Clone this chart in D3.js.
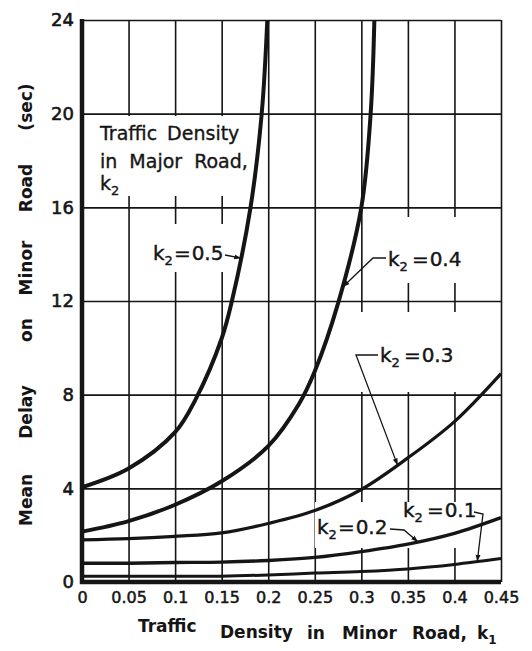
<!DOCTYPE html>
<html><head><meta charset="utf-8">
<script src="https://cdn.jsdelivr.net/npm/d3@7"></script>
<style>
html,body{margin:0;padding:0;background:#fff;}
svg{display:block;}
</style></head><body>
<svg id="chart" width="532" height="651"></svg>
<script>
// ---- data ----
const xTickValues = [0, 0.05, 0.1, 0.15, 0.2, 0.25, 0.3, 0.35, 0.4, 0.45];
const xTickLabels = ["0", "0.05", "0.1", "0.15", "0.2", "0.25", "0.3", "0.35", "0.4", "0.45"];
const yTickValues = [0, 4, 8, 12, 16, 20, 24];
const yTickLabels = ["0", "4", "8", "12", "16", "20", "24"];

const k1Common   = [0, 0.05, 0.1, 0.15, 0.2, 0.25, 0.3, 0.35, 0.4, 0.45];
const delayK2_01 = [0.25, 0.25, 0.25, 0.25, 0.3, 0.38, 0.45, 0.56, 0.75, 1.0];
const delayK2_02 = [0.8, 0.8, 0.83, 0.85, 0.92, 1.05, 1.3, 1.62, 2.08, 2.75];
const delayK2_03 = [1.8, 1.85, 1.95, 2.1, 2.5, 3.05, 3.95, 5.3, 6.85, 8.9];
const k1K2_04    = [0, 0.05, 0.1, 0.15, 0.2, 0.233, 0.25, 0.275, 0.3, 0.31, 0.314];
const delayK2_04 = [2.15, 2.6, 3.3, 4.3, 5.8, 7.6, 9.0, 11.9, 16, 20, 24];
const k1K2_05    = [0, 0.05, 0.1, 0.122, 0.15, 0.161, 0.181, 0.193, 0.199];
const delayK2_05 = [4.05, 4.85, 6.4, 7.8, 10.4, 12, 16, 20, 24];

const seriesNames = ["0.1", "0.2", "0.3", "0.4", "0.5"];
const yTitleWords = ["Mean", "Delay", "on", "Minor", "Road", "(sec)"];
const xTitleWords = ["Traffic", "Density", "in", "Minor", "Road,"];

// ---- layout ----
const svg = d3.select("#chart");
const pL = 82, pR = 501, pT = 20, pB = 582;
const x = d3.scaleLinear().domain([0, 0.45]).range([pL, pR]);
const y = d3.scaleLinear().domain([0, 24]).range([pB, pT]);
const ink = "#151515";

svg.append("rect").attr("width", 532).attr("height", 651).attr("fill", "#fff");

const defs = svg.append("defs");
defs.append("clipPath").attr("id", "plotclip").append("rect")
  .attr("x", pL - 3).attr("y", pT - 1).attr("width", pR - pL + 6).attr("height", pB - pT + 4);
defs.append("marker").attr("id", "arr").attr("viewBox", "0 0 10 10")
  .attr("refX", 10).attr("refY", 5).attr("markerWidth", 7).attr("markerHeight", 7)
  .attr("orient", "auto").attr("markerUnits", "userSpaceOnUse")
  .append("path").attr("d", "M0,1.5 L10,5 L0,8.5 Z").attr("fill", ink);

// ---- grid ----
const gx = svg.append("g").attr("transform", `translate(0,${pB})`)
  .call(d3.axisBottom(x).tickValues(xTickValues).tickSize(-(pB - pT)).tickFormat(""));
gx.select(".domain").remove();
gx.selectAll("line").attr("stroke", ink).attr("stroke-width", 1.6);
const gy = svg.append("g").attr("transform", `translate(${pL},0)`)
  .call(d3.axisLeft(y).tickValues(yTickValues).tickSize(-(pR - pL)).tickFormat(""));
gy.select(".domain").remove();
gy.selectAll("line").attr("stroke", ink).attr("stroke-width", 1.6);

// gaps in the grid around the hand lettering
const gaps = [[95, 116, 155, 80], [148, 224, 92, 48], [380, 217, 92, 66], [350, 312, 120, 80], [315, 502, 165, 46]];
svg.append("g").selectAll("rect").data(gaps).join("rect")
  .attr("x", d => d[0]).attr("y", d => d[1]).attr("width", d => d[2]).attr("height", d => d[3])
  .attr("fill", "#fff");

// ---- thick axes ----
svg.append("line").attr("x1", x(0)).attr("x2", x(0)).attr("y1", y(0) + 2).attr("y2", y(24) - 1)
  .attr("stroke", ink).attr("stroke-width", 4.5);
svg.append("line").attr("x1", x(0) - 2).attr("x2", x(0.45)).attr("y1", y(0)).attr("y2", y(0))
  .attr("stroke", ink).attr("stroke-width", 4.5);

// ---- tick labels ----
const tx = svg.append("g").attr("transform", `translate(0,${pB})`)
  .call(d3.axisBottom(x).tickValues(xTickValues).tickSize(0).tickPadding(10)
    .tickFormat((d, i) => xTickLabels[i]));
tx.select(".domain").remove();
tx.selectAll("text").attr("font-family", "DejaVu Sans").attr("font-size", 16)
  .attr("fill", ink).attr("stroke", ink).attr("stroke-width", 0.5);
const ty = svg.append("g").attr("transform", `translate(${pL},0)`)
  .call(d3.axisLeft(y).tickValues(yTickValues).tickSize(0).tickPadding(8)
    .tickFormat((d, i) => yTickLabels[i]));
ty.select(".domain").remove();
ty.selectAll("text").attr("font-family", "DejaVu Sans").attr("font-size", 18)
  .attr("fill", ink).attr("stroke", ink).attr("stroke-width", 0.6);

// ---- curves ----
const series = [
  { name: seriesNames[0], xs: k1Common, ys: delayK2_01, w: 3 },
  { name: seriesNames[1], xs: k1Common, ys: delayK2_02, w: 3.4 },
  { name: seriesNames[2], xs: k1Common, ys: delayK2_03, w: 3.2 },
  { name: seriesNames[3], xs: k1K2_04, ys: delayK2_04, w: 4 },
  { name: seriesNames[4], xs: k1K2_05, ys: delayK2_05, w: 4 }
];
const line = d3.line().x(d => x(d[0])).y(d => y(d[1])).curve(d3.curveCatmullRom.alpha(0.5));
const paths = {};
const cg = svg.append("g").attr("clip-path", "url(#plotclip)");
series.forEach(s => {
  const pts = s.xs.map((k, i) => [k, s.ys[i]]);
  paths[s.name] = cg.append("path").datum(pts).attr("d", line)
    .attr("fill", "none").attr("stroke", ink).attr("stroke-width", s.w)
    .attr("stroke-linejoin", "round").node();
});

function pointAtK(name, k) {
  const node = paths[name], px = x(k);
  let lo = 0, hi = node.getTotalLength();
  for (let i = 0; i < 40; i++) {
    const mid = (lo + hi) / 2;
    if (node.getPointAtLength(mid).x < px) lo = mid; else hi = mid;
  }
  const p = node.getPointAtLength((lo + hi) / 2);
  return [p.x, p.y];
}

// ---- annotations ----
const ag = svg.append("g").attr("font-family", "DejaVu Sans").attr("fill", ink);

function k2Label(xp, yp, val, gap) {
  const t = ag.append("text").attr("x", xp).attr("y", yp).attr("font-size", 20)
    .attr("stroke", ink).attr("stroke-width", 0.4);
  t.append("tspan").text("k");
  t.append("tspan").attr("font-size", 13).attr("dy", 5).text("2");
  t.append("tspan").attr("dy", -5).attr("dx", gap ? 4 : 1).text("=");
  t.append("tspan").attr("dx", 1).text(val);
}
function leader(pts, tip) {
  const d = "M" + pts.map(p => p.join(",")).join("L") + "L" + tip.join(",");
  ag.append("path").attr("d", d).attr("fill", "none").attr("stroke", ink)
    .attr("stroke-width", 1.3).attr("marker-end", "url(#arr)");
}

// legend block
const lg = ag.append("text").attr("font-size", 19).attr("stroke", ink).attr("stroke-width", 0.35);
lg.append("tspan").attr("x", 100).attr("y", 140).attr("word-spacing", 4).text("Traffic Density");
lg.append("tspan").attr("x", 100).attr("y", 168).attr("word-spacing", 6).text("in Major Road,");
const lk = ag.append("text").attr("x", 100).attr("y", 190).attr("font-size", 19)
  .attr("stroke", ink).attr("stroke-width", 0.35);
lk.append("tspan").text("k");
lk.append("tspan").attr("font-size", 13).attr("dy", 5).text("2");

k2Label(153, 260, "0.5", false);
leader([[225, 255]], pointAtK("0.5", 0.171));

k2Label(388, 266, "0.4", true);
leader([[386, 258], [373, 258]], pointAtK("0.4", 0.280));

k2Label(380, 362, "0.3", true);
leader([[378, 355], [356, 355]], pointAtK("0.3", 0.339));

k2Label(317, 534, "0.2", false);
leader([[390, 529], [404, 530]], pointAtK("0.2", 0.361));

k2Label(403, 517, "0.1", true);
leader([[474, 512], [483, 514]], pointAtK("0.1", 0.4245));

// ---- axis titles ----
const yCenters = [500, 412, 330, 268, 188, 107];
const yt = svg.append("g").attr("font-family", "DejaVu Sans").attr("font-weight", "bold")
  .attr("font-size", 17).attr("fill", ink);
yTitleWords.forEach((w, i) => {
  yt.append("text").attr("transform", `translate(32,${yCenters[i]}) rotate(-90)`)
    .attr("text-anchor", "middle").text(w);
});
const xStarts = [138, 220, 307, 342, 412];
const xBase = [632, 638, 639, 639, 639];
const xt = svg.append("g").attr("font-family", "DejaVu Sans").attr("font-weight", "bold")
  .attr("font-size", 17).attr("fill", ink);
xTitleWords.forEach((w, i) => {
  xt.append("text").attr("x", xStarts[i]).attr("y", xBase[i]).text(w);
});
const xk = xt.append("text").attr("x", 477).attr("y", 639);
xk.append("tspan").text("k");
xk.append("tspan").attr("font-size", 12).attr("dy", 5).text("1");
</script>
</body></html>
